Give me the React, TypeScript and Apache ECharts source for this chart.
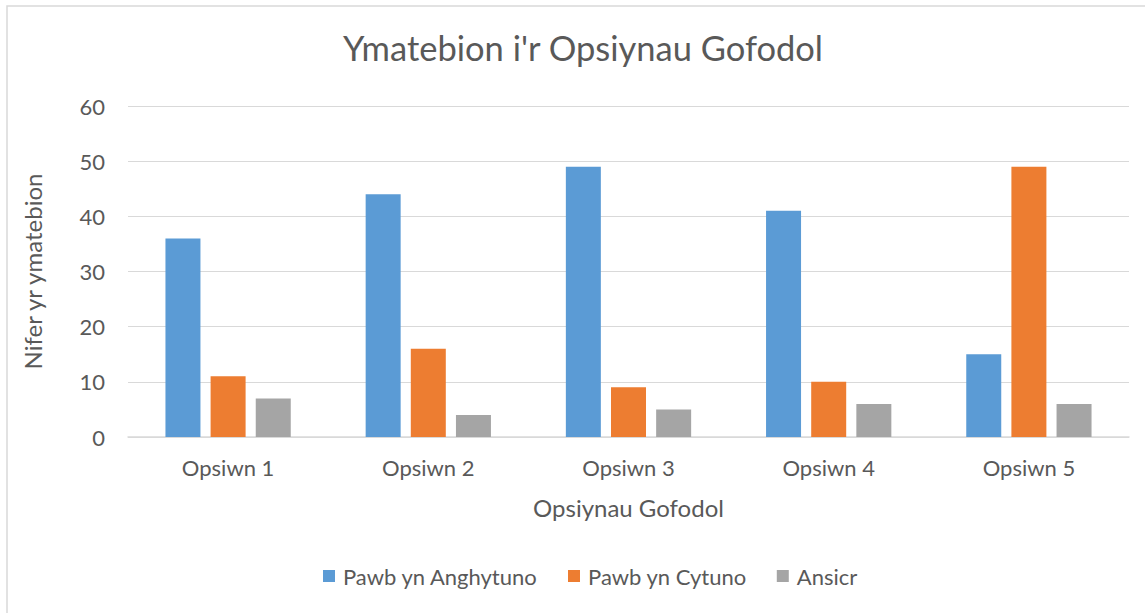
import React, { useEffect, useRef } from "react";
import * as echarts from "echarts";

const categories = ["Opsiwn 1", "Opsiwn 2", "Opsiwn 3", "Opsiwn 4", "Opsiwn 5"];
const seriesNames = ["Pawb yn Anghytuno", "Pawb yn Cytuno", "Ansicr"];
const anghytuno = [36, 44, 49, 41, 15];
const cytuno = [11, 16, 9, 10, 49];
const ansicr = [7, 4, 5, 6, 6];
const colors = ["#5B9BD5", "#ED7D31", "#A5A5A5"];
const yTicks = [0, 10, 20, 30, 40, 50, 60];

const FONT = "Lato";
const TXT = "#595959";

export default function App() {
  const ref = useRef<HTMLDivElement>(null);
  useEffect(() => {
    document.body.style.margin = "0";
    const chart = echarts.init(ref.current!, null, { renderer: "svg" });
    const data = [anghytuno, cytuno, ansicr];
    chart.setOption({
      animation: false,
      textStyle: { fontFamily: FONT, color: TXT },
      graphic: [
        {
          type: "rect",
          shape: { x: 7, y: 6, width: 1160, height: 630 },
          style: { fill: "none", stroke: "#D9D9D9", lineWidth: 1.5 },
          silent: true,
        },
      ],
      title: {
        text: "Ymatebion i'r Opsiynau Gofodol",
        left: 343,
        top: 30,
        padding: 0,
        textStyle: { fontFamily: FONT, fontSize: 34.5, fontWeight: "normal", color: TXT },
      },
      legend: {
        data: seriesNames,
        bottom: 21,
        left: 318,
        itemWidth: 12,
        itemHeight: 12,
        itemGap: 30,
        icon: "rect",
        textStyle: { fontFamily: FONT, fontSize: 22, color: TXT, padding: [0, 0, 0, 3] },
      },
      grid: { left: 128, right: 16, top: 106, bottom: 176, containLabel: false },
      xAxis: {
        type: "category",
        data: categories,
        name: "Opsiynau Gofodol",
        nameLocation: "middle",
        nameGap: 58,
        nameTextStyle: { fontFamily: FONT, fontSize: 24, color: TXT },
        axisLine: { lineStyle: { color: "#D9D9D9", width: 1.5 } },
        axisTick: { show: false },
        axisLabel: { fontFamily: FONT, fontSize: 22, color: TXT, margin: 19 },
      },
      yAxis: {
        type: "value",
        min: 0,
        max: 60,
        interval: 10,
        name: "Nifer yr ymatebion",
        nameLocation: "middle",
        nameGap: 84,
        nameTextStyle: { fontFamily: FONT, fontSize: 24, color: TXT },
        axisLine: { show: false },
        axisTick: { show: false },
        splitLine: { lineStyle: { color: "#D9D9D9", width: 1 } },
        axisLabel: {
          fontFamily: FONT,
          fontSize: 22,
          color: TXT,
          margin: 23,
          formatter: (v: number) => (yTicks.includes(v) ? String(v) : ""),
        },
      },
      series: seriesNames.map((name, i) => ({
        name,
        type: "bar",
        data: data[i],
        barWidth: 35,
        barGap: "29%",
        itemStyle: { color: colors[i] },
      })),
    });
    return () => chart.dispose();
  }, []);
  return <div ref={ref} style={{ width: 1145, height: 613 }} />;
}
